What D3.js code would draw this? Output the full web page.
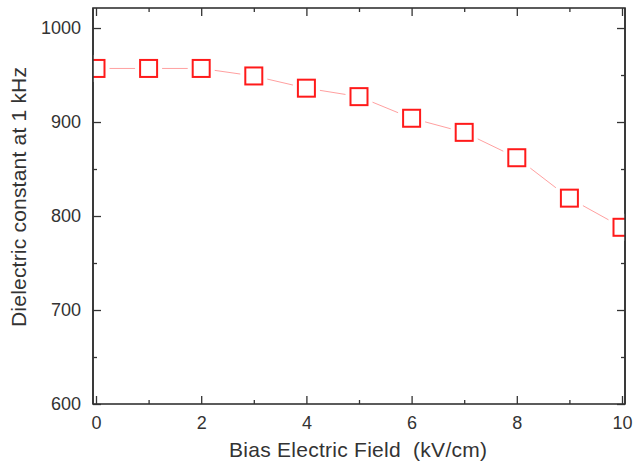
<!DOCTYPE html>
<html><head><meta charset="utf-8">
<script src="https://cdn.jsdelivr.net/npm/d3@7"></script>
<style>body{margin:0;background:#fff;} svg{display:block;}</style>
</head><body>
<svg id="c" width="633" height="462"></svg>
<script>
const fieldValues = [0,1,2,3,4,5,6,7,8,9,10];
const dielectricValues = [957,957,957,949,936,927,904,889,862,819,788];
const xTickValues = [0,2,4,6,8,10];
const yTickValues = [600,700,800,900,1000];
const xTitle = "Bias Electric Field  (kV/cm)";
const yTitle = "Dielectric constant at 1 kHz";

const svg = d3.select("#c");
const L=93, R=625, T=8, B=404;
const x = d3.scaleLinear().domain([-0.057,10.057]).range([L,R]);
const y = d3.scaleLinear().domain([600,1021.3]).range([B,T]);
const axisColor = "#333";
const font = "Liberation Sans, Arial, sans-serif";

const xMinor = d3.range(1,10,2);
const yMinor = [650,750,850,950];

function drawAxis(axis, tr, major, minor, showLabels){
  const g = svg.append("g").attr("transform", tr);
  g.call(axis.tickValues(major).tickSizeInner(-8).tickSizeOuter(0).tickPadding(showLabels?12:0)
      .tickFormat(showLabels? d3.format("d") : ()=>""));
  g.select(".domain").remove();
  g.selectAll(".tick line").attr("stroke", axisColor).attr("stroke-width",1.3);
  g.selectAll(".tick text").attr("fill",axisColor).style("font-family",font).style("font-size","18px");
  const g2 = svg.append("g").attr("transform", tr);
  g2.call(axis.tickValues(minor).tickSizeInner(-4).tickSizeOuter(0).tickFormat(()=>""));
  g2.select(".domain").remove();
  g2.selectAll(".tick line").attr("stroke", axisColor).attr("stroke-width",1.3);
  return g;
}
const gx = drawAxis(d3.axisBottom(x), `translate(0,${B})`, xTickValues, xMinor, true);
gx.selectAll(".tick text").attr("dy","0.71em");
drawAxis(d3.axisTop(x), `translate(0,${T})`, xTickValues, xMinor, false);
drawAxis(d3.axisLeft(y), `translate(${L},0)`, yTickValues, yMinor, true);
drawAxis(d3.axisRight(y), `translate(${R},0)`, yTickValues, yMinor, false);

svg.append("rect").attr("x",L).attr("y",T).attr("width",R-L).attr("height",B-T)
  .attr("fill","none").attr("stroke",axisColor).attr("stroke-width",1.6);

const data = fieldValues.map((f,i)=>({f, v: dielectricValues[i]}));
svg.append("defs").append("clipPath").attr("id","clp")
  .append("rect").attr("x",L).attr("y",T-20).attr("width",R-L).attr("height",B-T+40);
const plot = svg.append("g").attr("clip-path","url(#clp)");
plot.append("path").datum(data)
  .attr("d", d3.line().x(d=>x(d.f)).y(d=>y(d.v)))
  .attr("fill","none").attr("stroke","#ffa0a0").attr("stroke-width",1);
const s = 19;
plot.selectAll("rect.halo").data(data).enter().append("rect").attr("class","halo")
  .attr("x",d=>x(d.f)-s/2-4).attr("y",d=>y(d.v)-s/2-4).attr("width",s+8).attr("height",s+8)
  .attr("fill","#fff");
plot.selectAll("rect.mk").data(data).enter().append("rect").attr("class","mk")
  .attr("x",d=>x(d.f)-s/2+1).attr("y",d=>y(d.v)-s/2+1).attr("width",s-2).attr("height",s-2)
  .attr("fill","#fff").attr("stroke","#ff1a1a").attr("stroke-width",2);
svg.append("line").attr("x1",L).attr("x2",L).attr("y1",T).attr("y2",B).attr("stroke",axisColor).attr("stroke-width",1.6);
svg.append("line").attr("x1",R).attr("x2",R).attr("y1",T).attr("y2",B).attr("stroke",axisColor).attr("stroke-width",1.6);

svg.append("text").attr("x",358).attr("y",457).attr("text-anchor","middle")
  .attr("textLength",258).attr("lengthAdjust","spacing")
  .style("white-space","pre")
  .style("font-family",font).style("font-size","21px").attr("fill",axisColor).text(xTitle);
svg.append("text").attr("transform","translate(26,197) rotate(-90)").attr("text-anchor","middle")
  .attr("textLength",260).attr("lengthAdjust","spacing")
  .style("font-family",font).style("font-size","21px").attr("fill",axisColor).text(yTitle);
</script>
</body></html>
